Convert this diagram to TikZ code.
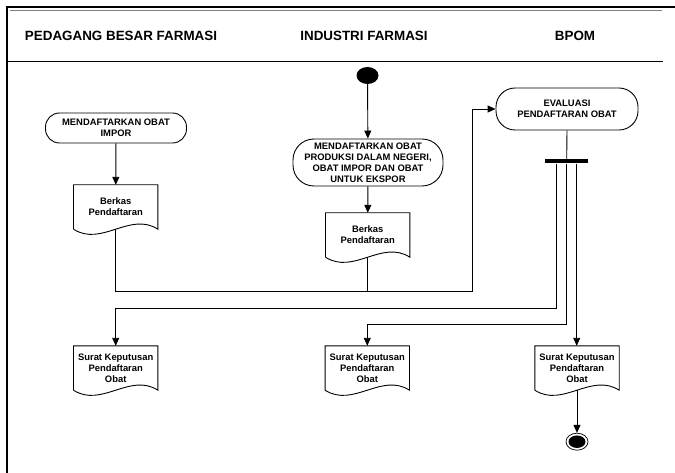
\documentclass[tikz,border=0pt]{standalone}
\usepackage{fontspec}
\setmainfont{Liberation Sans}
\usetikzlibrary{arrows.meta,shapes.geometric,calc}
\newcommand\docshape[1]{\draw[shapeline] (#1.south west) -- (#1.north west) -- (#1.north east) -- (#1.south east)
  .. controls ($(#1.south east)+(-28,-18)$) and ($(#1.south west)+(28,18)$) .. (#1.south west);}
\begin{document}
\begin{tikzpicture}[x=1pt,y=-1pt,
  shapeline/.style={line width=0.9pt},
  conn/.style={line width=0.9pt},
  arr/.style={conn,-{Triangle[length=8pt,width=7pt]}},
  txt/.style={font=\bfseries\fontsize{9.4}{11}\selectfont, align=center, inner sep=0pt},
  stad/.style={txt, draw, shapeline, rectangle},
  docnode/.style={txt, rectangle, minimum width=84pt, minimum height=44pt},
  hdr/.style={font=\bfseries\fontsize{13.4}{16}\selectfont, inner sep=0pt}
]
\useasboundingbox (0,0) rectangle (675,473);
% frame
\draw[line width=2pt] (7,473) -- (7,7) -- (675,7);
\draw[line width=1pt, gray] (10,10.5) -- (662,10.5);
\draw[line width=1.1pt] (7,61.7) -- (663,61.7);
% headers
\node[hdr] (h1) at (121,36) {PEDAGANG BESAR FARMASI};
\node[hdr] (h2) at (364,36) {INDUSTRI FARMASI};
\node[hdr] (h3) at (575,36) {BPOM};
% start
\node[ellipse, fill=black, minimum width=22pt, minimum height=17pt, inner sep=0pt] (start) at (367.5,75.5) {};
% stadiums
\node[stad, minimum width=141pt, minimum height=30pt, rounded corners=14pt] (s1) at (116,128) {MENDAFTARKAN OBAT\\IMPOR};
\node[stad, minimum width=150pt, minimum height=47pt, rounded corners=21pt] (s2) at (368,162.5) {MENDAFTARKAN OBAT\\PRODUKSI DALAM NEGERI,\\OBAT IMPOR DAN OBAT\\UNTUK EKSPOR};
\node[stad, minimum width=142pt, minimum height=42pt, rounded corners=19pt] (s3) at (567,109) {EVALUASI\\PENDAFTARAN OBAT};
% documents
\node[docnode] (d1) at (115.7,207) {Berkas\\Pendaftaran};
\node[docnode] (d2) at (367.7,235) {Berkas\\Pendaftaran};
\node[docnode] (dl) at (115.7,368) {Surat Keputusan\\Pendaftaran\\Obat};
\node[docnode] (dm) at (367.3,368) {Surat Keputusan\\Pendaftaran\\Obat};
\node[docnode] (dr) at (577,368) {Surat Keputusan\\Pendaftaran\\Obat};
\docshape{d1}
\docshape{d2}
\docshape{dl}
\docshape{dm}
\docshape{dr}
% fork bar
\node[rectangle, fill=black, minimum width=43pt, minimum height=4.5pt, inner sep=0pt] (bar) at (566.7,161.2) {};
% end
\node[ellipse, draw, line width=0.7pt, minimum width=22pt, minimum height=17pt, inner sep=0pt] (end) at (577,441.7) {};
\node[ellipse, fill=black, minimum width=17pt, minimum height=12.5pt, inner sep=0pt] (endin) at (end.center) {};
% coordinates
\coordinate (j1) at (472.7,291.7);
\coordinate (k1) at (115.7,308);
\coordinate (k2) at (367.3,324.7);
% connectors
\draw[arr] (start) -- (s2);
\draw[arr] (s1) -- (d1);
\draw[arr] (s2) -- (d2);
\draw[arr] (d1.south) |- (j1) |- (s3.west);
\draw[conn] (d2.south) -- (d2.south |- j1);
\draw[conn] (s3.south) -- (bar.north);
\draw[arr] ([xshift=-10pt]bar.south) |- (k1) -- (dl.north);
\draw[arr] (bar.south) |- (k2) -- (dm.north);
\draw[arr] ([xshift=10pt]bar.south) -- ([xshift=10pt]bar.south |- dr.north);
\draw[arr] (dr.south) -- (end.north);
\end{tikzpicture}
\end{document}
